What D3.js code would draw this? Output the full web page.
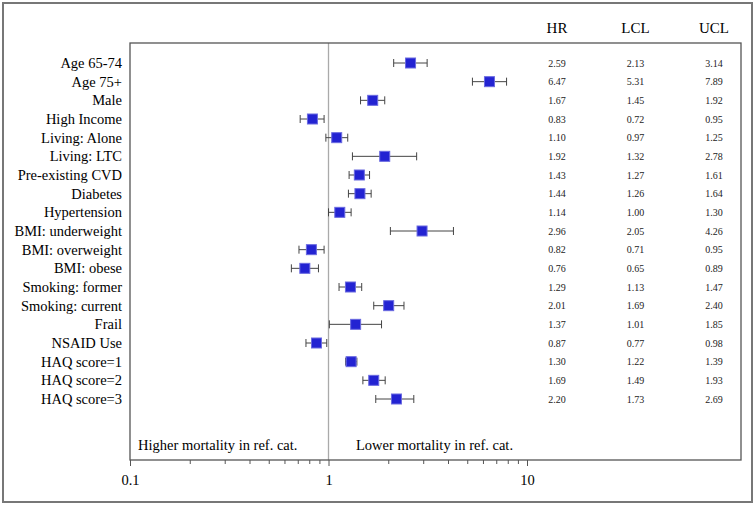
<!DOCTYPE html>
<html>
<head>
<meta charset="utf-8">
</head>
<body style="margin:0">
<script src="https://cdn.jsdelivr.net/npm/d3@7"></script>
<script>

var labels = ["Age 65-74", "Age 75+", "Male", "High Income", "Living: Alone", "Living: LTC",
  "Pre-existing CVD", "Diabetes", "Hypertension", "BMI: underweight", "BMI: overweight",
  "BMI: obese", "Smoking: former", "Smoking: current", "Frail", "NSAID Use",
  "HAQ score=1", "HAQ score=2", "HAQ score=3"];
var hr  = [2.59, 6.47, 1.67, 0.83, 1.10, 1.92, 1.43, 1.44, 1.14, 2.96, 0.82, 0.76, 1.29, 2.01, 1.37, 0.87, 1.30, 1.69, 2.20];
var lcl = [2.13, 5.31, 1.45, 0.72, 0.97, 1.32, 1.27, 1.26, 1.00, 2.05, 0.71, 0.65, 1.13, 1.69, 1.01, 0.77, 1.22, 1.49, 1.73];
var ucl = [3.14, 7.89, 1.92, 0.95, 1.25, 2.78, 1.61, 1.64, 1.30, 4.26, 0.95, 0.89, 1.47, 2.40, 1.85, 0.98, 1.39, 1.93, 2.69];
var columns = ["HR", "LCL", "UCL"];
var tickMajor = [0.1, 1, 10];

var width = 756, height = 507;
var serif = "'Liberation Serif'";

var data = labels.map(function(l, i) {
  return {label: l, hr: hr[i], lcl: lcl[i], ucl: ucl[i]};
});

var svg = d3.select("body").append("svg")
    .attr("width", width)
    .attr("height", height);

// outer border
svg.append("rect").attr("x", 3).attr("y", 3).attr("width", 749).attr("height", 499)
    .attr("fill", "none").attr("stroke", "#777").attr("stroke-width", 2);

var frame = {left: 130, right: 741, top: 43, bottom: 460};

var x = d3.scaleLog().domain([0.1, 10]).range([130, 527]);
var y = d3.scalePoint().domain(labels).range([63, 399]);
var colX = d3.scalePoint().domain(columns).range([557, 714]);

// reference line at 1
svg.append("line")
    .attr("x1", x(1)).attr("x2", x(1))
    .attr("y1", frame.top).attr("y2", frame.bottom)
    .attr("stroke", "#aaa").attr("stroke-width", 1.3);

// plot frame
svg.append("rect")
    .attr("x", frame.left).attr("y", frame.top)
    .attr("width", frame.right - frame.left).attr("height", frame.bottom - frame.top)
    .attr("fill", "none").attr("stroke", "#555").attr("stroke-width", 1.3);

// x axis
var axis = svg.append("g")
    .attr("transform", "translate(0," + frame.bottom + ")")
    .call(d3.axisBottom(x).ticks(10).tickSize(4).tickFormat(function(d) {
      return tickMajor.indexOf(d) >= 0 ? d : "";
    }));
axis.select(".domain").remove();
axis.selectAll(".tick line").attr("stroke", "#555");
axis.selectAll(".tick").filter(function(d) { return tickMajor.indexOf(d) >= 0; })
    .select("line").attr("y2", 6);
axis.selectAll(".tick text")
    .attr("y", 15)
    .style("font-family", serif)
    .style("font-size", "14.5px")
    .attr("fill", "#000");

// row labels
svg.append("g").selectAll("text")
    .data(data).enter().append("text")
    .attr("x", 122)
    .attr("y", function(d) { return y(d.label); })
    .attr("dy", "0.35em")
    .attr("text-anchor", "end")
    .style("font-family", serif)
    .style("font-size", "14.5px")
    .text(function(d) { return d.label; });

// error bars
var rows = svg.append("g").selectAll("g")
    .data(data).enter().append("g")
    .attr("transform", function(d) { return "translate(0," + y(d.label) + ")"; });

rows.append("line")
    .attr("x1", function(d) { return x(d.lcl); })
    .attr("x2", function(d) { return x(d.ucl); })
    .attr("stroke", "#444").attr("stroke-width", 1);
rows.append("line")
    .attr("x1", function(d) { return x(d.lcl); })
    .attr("x2", function(d) { return x(d.lcl); })
    .attr("y1", -4).attr("y2", 4)
    .attr("stroke", "#444");
rows.append("line")
    .attr("x1", function(d) { return x(d.ucl); })
    .attr("x2", function(d) { return x(d.ucl); })
    .attr("y1", -4).attr("y2", 4)
    .attr("stroke", "#444");
rows.append("rect")
    .attr("x", function(d) { return x(d.hr) - 5; })
    .attr("y", -5)
    .attr("width", 10).attr("height", 10)
    .attr("fill", "#2323d2")
    .attr("stroke", "#6a6ae0").attr("stroke-width", 1);

// numeric columns
columns.forEach(function(c) {
  var key = c.toLowerCase();
  svg.append("text")
      .attr("x", colX(c)).attr("y", 33)
      .attr("text-anchor", "middle")
      .style("font-family", serif)
      .style("font-size", "15px")
      .text(c);
  svg.append("g").selectAll("text")
      .data(data).enter().append("text")
      .attr("x", colX(c))
      .attr("y", function(d) { return y(d.label); })
      .attr("dy", "0.35em")
      .attr("text-anchor", "middle")
      .attr("fill", "#222")
      .style("font-family", serif)
      .style("font-size", "10px")
      .text(function(d) { return d[key].toFixed(2); });
});

// direction annotations
svg.append("text")
    .attr("x", 138).attr("y", 450)
    .style("font-family", serif).style("font-size", "14.5px")
    .text("Higher mortality in ref. cat.");
svg.append("text")
    .attr("x", 356).attr("y", 450)
    .style("font-family", serif).style("font-size", "14.5px")
    .text("Lower mortality in ref. cat.");

</script>
</body>
</html>
